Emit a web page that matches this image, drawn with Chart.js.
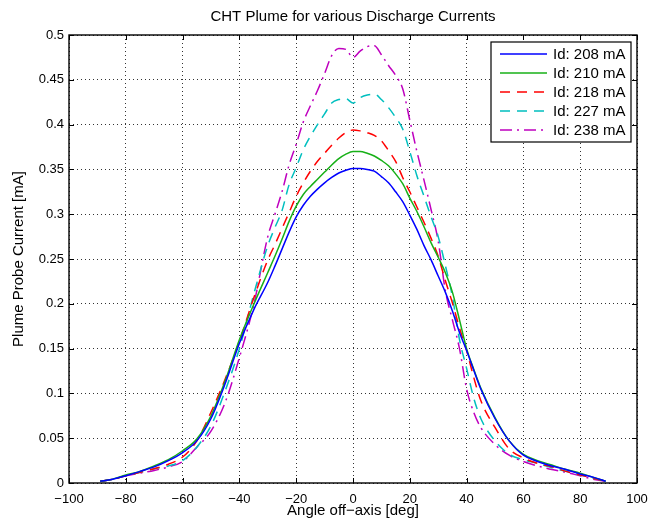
<!DOCTYPE html>
<html><head><meta charset="utf-8">
<script src="https://cdn.jsdelivr.net/npm/chart.js@4"></script>
<style>html,body{margin:0;padding:0;background:#fff}</style>
</head><body>
<canvas id="c" width="651" height="523"></canvas>
<script>
const angles = [-89,-85,-80,-75,-70,-65,-60,-55,-50,-45,-40,-35,-30,-27.5,-25,-22.5,-20,-17.5,-15,-12.5,-10,-7.5,-5,-2.5,0,2.5,5,7.5,10,12.5,15,17.5,20,22.5,25,27.5,30,32.5,35,37.5,40,42.5,45,50,55,60,65,70,75,80,85,89];
const id208 = [0.002,0.004,0.008,0.013,0.018,0.025,0.034,0.047,0.072,0.111,0.156,0.193,0.224,0.242,0.261,0.280,0.297,0.310,0.320,0.328,0.335,0.341,0.346,0.349,0.351,0.351,0.350,0.348,0.342,0.335,0.325,0.314,0.299,0.283,0.265,0.249,0.231,0.213,0.192,0.168,0.148,0.126,0.105,0.072,0.047,0.031,0.024,0.019,0.015,0.010,0.006,0.002];
const id210 = [0.002,0.004,0.009,0.013,0.019,0.026,0.036,0.049,0.075,0.114,0.160,0.199,0.235,0.253,0.272,0.292,0.309,0.322,0.331,0.339,0.347,0.355,0.362,0.367,0.370,0.370,0.368,0.365,0.360,0.354,0.345,0.334,0.318,0.303,0.286,0.268,0.252,0.235,0.213,0.182,0.150,0.127,0.106,0.073,0.047,0.032,0.025,0.020,0.015,0.011,0.006,0.002];
const id218 = [0.002,0.004,0.008,0.012,0.016,0.021,0.029,0.047,0.079,0.116,0.158,0.206,0.249,0.266,0.284,0.302,0.320,0.335,0.348,0.359,0.368,0.377,0.385,0.391,0.394,0.393,0.391,0.388,0.382,0.371,0.359,0.341,0.325,0.308,0.291,0.273,0.253,0.226,0.201,0.173,0.148,0.118,0.092,0.062,0.038,0.028,0.022,0.018,0.013,0.009,0.005,0.002];
const id227 = [0.002,0.004,0.008,0.012,0.016,0.019,0.025,0.040,0.064,0.103,0.150,0.210,0.265,0.285,0.304,0.333,0.352,0.372,0.387,0.400,0.412,0.424,0.428,0.429,0.424,0.430,0.433,0.434,0.428,0.419,0.408,0.395,0.370,0.343,0.320,0.297,0.275,0.243,0.208,0.160,0.128,0.095,0.072,0.047,0.032,0.026,0.022,0.017,0.013,0.009,0.005,0.002];
const id238 = [0.002,0.004,0.008,0.011,0.014,0.018,0.024,0.040,0.058,0.090,0.140,0.198,0.275,0.300,0.325,0.355,0.378,0.403,0.421,0.438,0.457,0.477,0.485,0.484,0.475,0.482,0.487,0.488,0.478,0.466,0.455,0.440,0.405,0.370,0.338,0.305,0.270,0.215,0.182,0.150,0.105,0.079,0.062,0.043,0.031,0.024,0.019,0.015,0.012,0.008,0.004,0.002];
const seriesLabels = ['Id: 208 mA','Id: 210 mA','Id: 218 mA','Id: 227 mA','Id: 238 mA'];
const xTickValues = [-100,-80,-60,-40,-20,0,20,40,60,80,100];
const yTickValues = [0,0.05,0.1,0.15,0.2,0.25,0.3,0.35,0.4,0.45,0.5];

const FONT = "'Liberation Sans', Arial, Helvetica, sans-serif";
const styles = [
  {color:'#0000ff', dash:[]},
  {color:'#17b017', dash:[]},
  {color:'#ff0000', dash:[10,7]},
  {color:'#00bfbf', dash:[10,7]},
  {color:'#bf00bf', dash:[12,5,2,5]}
];
const values = [id208,id210,id218,id227,id238];
const datasets = values.map((arr,i)=>({
  label: seriesLabels[i],
  data: angles.map((a,j)=>({x:a,y:arr[j]})),
  borderColor: styles[i].color,
  borderDash: styles[i].dash,
  borderWidth: 1.5,
  pointRadius: 0,
  fill: false,
  cubicInterpolationMode: 'monotone'
}));

const fmtX = v => v < 0 ? '\u2212' + Math.abs(v) : String(v);
const fmtY = v => String(Math.round(v*100)/100);

const framePlugin = {
  id: 'frame',
  afterDraw(chart) {
    const ctx = chart.ctx;
    const {left,right,top,bottom} = chart.chartArea;
    const xs = chart.scales.x, ys = chart.scales.y;
    ctx.save();
    ctx.strokeStyle = '#000';
    ctx.lineWidth = 1;
    ctx.setLineDash([]);
    ctx.beginPath();
    xTickValues.forEach(v => {
      const px = Math.round(xs.getPixelForValue(v)) + 0.5;
      ctx.moveTo(px, bottom); ctx.lineTo(px, bottom - 5);
      ctx.moveTo(px, top); ctx.lineTo(px, top + 5);
    });
    yTickValues.forEach(v => {
      const py = Math.round(ys.getPixelForValue(v)) + 0.5;
      ctx.moveTo(left, py); ctx.lineTo(left + 5, py);
      ctx.moveTo(right, py); ctx.lineTo(right - 5, py);
    });
    ctx.stroke();
    ctx.lineWidth = 1.4;
    ctx.strokeRect(left, top, right - left, bottom - top);
    // legend
    const lw = 140, lh = 100;
    const lx = right - 6 - lw, ly = top + 7;
    ctx.fillStyle = '#fff';
    ctx.fillRect(lx, ly, lw, lh);
    ctx.lineWidth = 1.2;
    ctx.strokeRect(lx, ly, lw, lh);
    ctx.font = '15px ' + FONT;
    ctx.textBaseline = 'middle';
    ctx.textAlign = 'left';
    datasets.forEach((d,i) => {
      const yy = ly + 12 + 19*i;
      ctx.strokeStyle = d.borderColor;
      ctx.lineWidth = 1.5;
      ctx.setLineDash(d.borderDash);
      ctx.beginPath();
      ctx.moveTo(lx + 9, yy); ctx.lineTo(lx + 56, yy);
      ctx.stroke();
      ctx.setLineDash([]);
      ctx.fillStyle = '#000';
      ctx.fillText(d.label, lx + 62, yy + 1);
    });
    ctx.restore();
  }
};

new Chart(document.getElementById('c'), {
  type: 'line',
  data: { datasets },
  options: {
    responsive: false,
    animation: false,
    devicePixelRatio: 1,
    layout: { padding: { top: 35, right: 14, left: 0, bottom: 0 } },
    plugins: {
      legend: { display: false },
      tooltip: { enabled: false },
      title: { display: false }
    },
    scales: {
      x: {
        type: 'linear', min: -100, max: 100,
        afterBuildTicks: s => { s.ticks = xTickValues.map(v => ({value: v})); },
        afterFit: s => { s.height = 40; s.paddingLeft = 0; s.paddingRight = 0; },
        ticks: { callback: fmtX, font: {family: FONT, size: 13}, color: '#000', padding: 9, maxRotation: 0, autoSkip: false },
        grid: { color: '#333', lineWidth: 1, drawTicks: false },
        border: { display: false, dash: [1,3] },
        title: { display: true, text: 'Angle off\u2212axis [deg]', font: {family: FONT, size: 15}, color: '#000', padding: {top: 0, bottom: 3} }
      },
      y: {
        type: 'linear', min: 0, max: 0.5,
        afterBuildTicks: s => { s.ticks = yTickValues.map(v => ({value: v})); },
        afterFit: s => { s.width = 69; s.paddingTop = 0; s.paddingBottom = 0; },
        ticks: { callback: fmtY, font: {family: FONT, size: 13}, color: '#000', padding: 5, autoSkip: false },
        grid: { color: '#333', lineWidth: 1, drawTicks: false },
        border: { display: false, dash: [1,3] },
        title: { display: true, text: 'Plume Probe Current [mA]', font: {family: FONT, size: 15}, color: '#000', padding: {top: 10, bottom: 0} }
      }
    }
  },
  plugins: [framePlugin, {
    id: 'titleText',
    afterDraw(chart) {
      const ctx = chart.ctx;
      const {left,right} = chart.chartArea;
      ctx.save();
      ctx.font = '15px ' + FONT;
      ctx.fillStyle = '#000';
      ctx.textAlign = 'center';
      ctx.textBaseline = 'middle';
      ctx.fillText('CHT Plume for various Discharge Currents', (left + right)/2, 16.5);
      ctx.restore();
    }
  }]
});
</script>
</body></html>
